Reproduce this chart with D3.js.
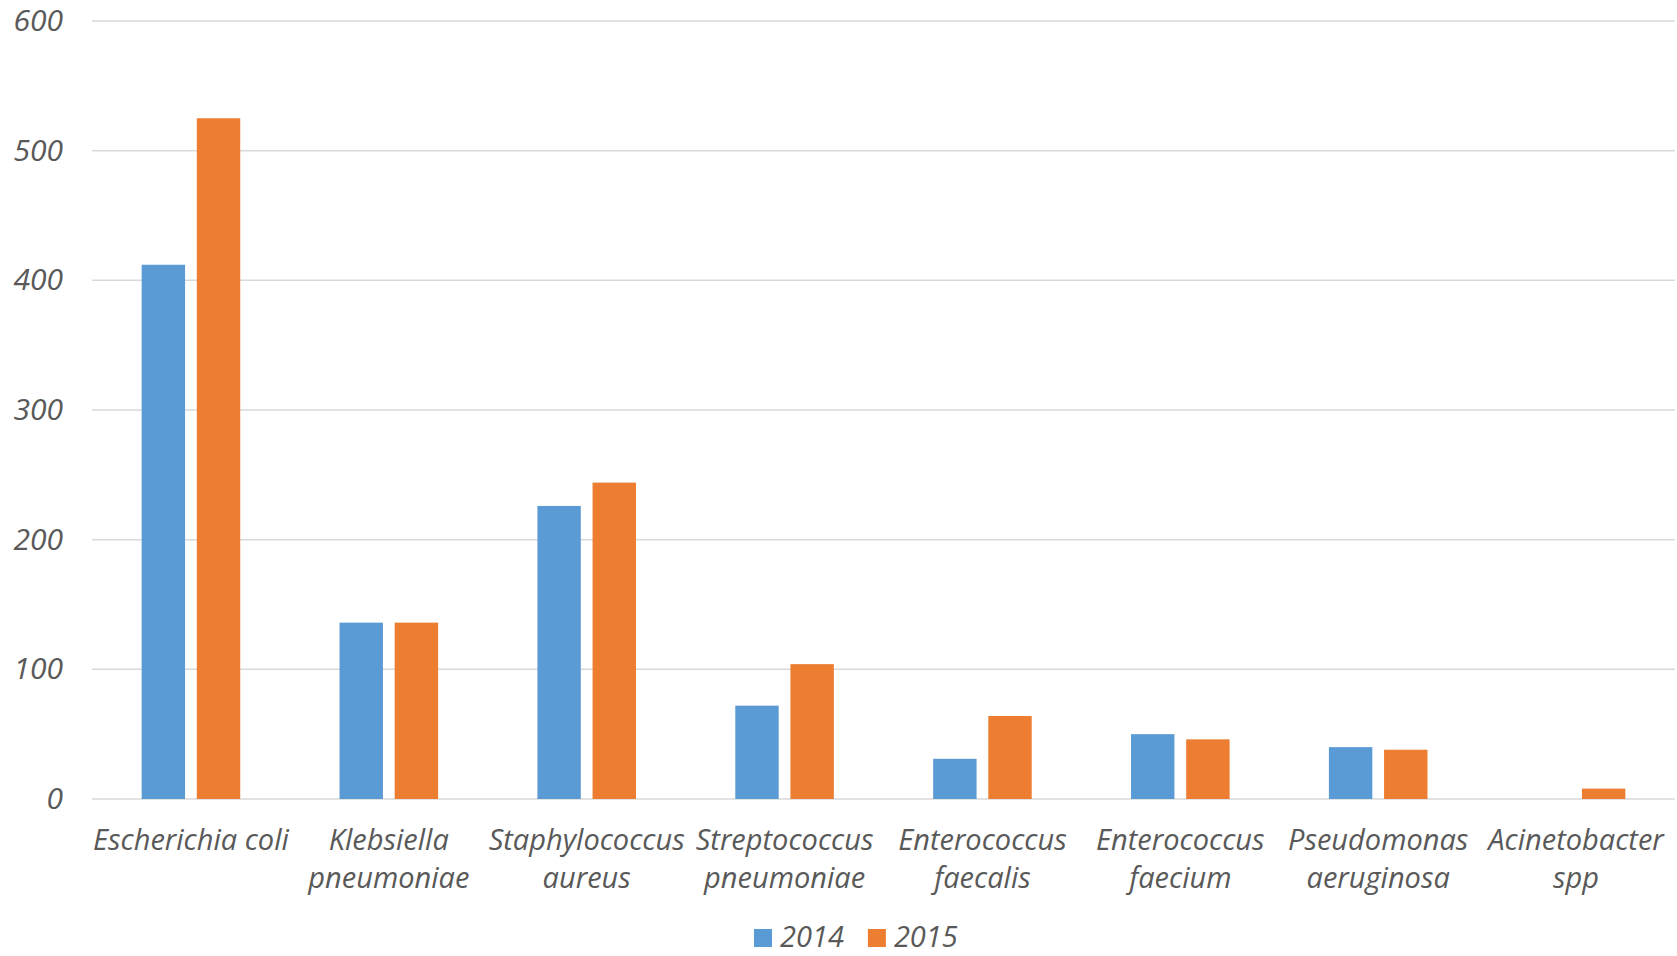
<!DOCTYPE html>
<html>
<head>
<meta charset="utf-8">
<script src="https://cdn.jsdelivr.net/npm/d3@7/dist/d3.min.js"></script>
<style>
  html, body { margin: 0; padding: 0; background: #fff; }
  svg { display: block; }
  text { font-family: "Open Sans", "Lato", sans-serif; font-style: italic; fill: #595959; }
</style>
</head>
<body>
<svg id="chart" width="1677" height="956"></svg>
<script>
// Bacterial isolates by species, 2014 vs 2015
const categories = [
  "Escherichia coli",
  "Klebsiella pneumoniae",
  "Staphylococcus aureus",
  "Streptococcus pneumoniae",
  "Enterococcus faecalis",
  "Enterococcus faecium",
  "Pseudomonas aeruginosa",
  "Acinetobacter spp"
];
const seriesNames = ["2014", "2015"];
const values2014 = [412, 136, 226, 72, 31, 50, 40, 0];
const values2015 = [525, 136, 244, 104, 64, 46, 38, 8];
const yTicks = [0, 100, 200, 300, 400, 500, 600];

const colors = ["#5B9BD5", "#ED7D31"];
const seriesValues = [values2014, values2015];

const svg = d3.select("#chart");
const margin = { left: 92, right: 2, top: 21, bottom: 157 };
const W = 1677, H = 956;
const innerW = W - margin.left - margin.right;
const innerH = H - margin.top - margin.bottom;
const fontSize = 29;

const g = svg.append("g").attr("transform", `translate(${margin.left},${margin.top})`);

const x = d3.scaleBand().domain(categories).range([0, innerW]).paddingInner(0).paddingOuter(0);
const inner = d3.scaleBand().domain(seriesNames).range([0, x.bandwidth()])
  .paddingInner(0.213).paddingOuter(0.9);
const y = d3.scaleLinear().domain([0, 600]).range([innerH, 0]);

// horizontal gridlines
g.append("g")
  .selectAll("line")
  .data(yTicks)
  .join("line")
  .attr("x1", 0).attr("x2", innerW)
  .attr("y1", d => y(d)).attr("y2", d => y(d))
  .attr("stroke", "#d9d9d9")
  .attr("stroke-width", 1.5);

// y axis labels
const yAxis = d3.axisLeft(y).tickValues(yTicks).tickSize(0).tickPadding(29);
g.append("g").call(yAxis)
  .call(s => s.select(".domain").remove())
  .selectAll("text")
  .attr("font-size", fontSize + 1)
  .style("font-family", "'Open Sans', Lato, sans-serif")
  .style("font-style", "italic")
  .attr("fill", "#595959");

// bars
const groups = g.append("g").selectAll("g")
  .data(categories)
  .join("g")
  .attr("transform", d => `translate(${x(d)},0)`);

groups.selectAll("rect")
  .data((c, i) => seriesNames.map((s, k) => ({ s, k, v: seriesValues[k][i] })))
  .join("rect")
  .attr("x", d => inner(d.s))
  .attr("width", inner.bandwidth())
  .attr("y", d => y(d.v))
  .attr("height", d => y(0) - y(d.v))
  .attr("fill", d => colors[d.k]);

// category labels, wrapped to the band width
const lineGap = 38;
const xl = g.append("g").attr("transform", `translate(0,${innerH})`);
categories.forEach(c => {
  const t = xl.append("text")
    .attr("x", x(c) + x.bandwidth() / 2)
    .attr("y", 51)
    .attr("text-anchor", "middle")
    .attr("font-size", fontSize);
  t.text(c);
  let lines = [c];
  if (t.node().getComputedTextLength() > x.bandwidth() + 2) {
    lines = c.split(" ");
  }
  t.text(null);
  lines.forEach((ln, i) => {
    t.append("tspan")
      .attr("x", x(c) + x.bandwidth() / 2)
      .attr("dy", i === 0 ? 0 : lineGap)
      .text(ln);
  });
});

// legend
const legend = svg.append("g").attr("transform", "translate(754,929)");
let lx = 0;
seriesNames.forEach((s, k) => {
  legend.append("rect").attr("x", lx).attr("y", 0).attr("width", 18).attr("height", 18).attr("fill", colors[k]);
  const t = legend.append("text").attr("x", lx + 26).attr("y", 18).attr("font-size", fontSize).text(s);
  lx += 26 + t.node().getComputedTextLength() + 24;
});
</script>
</body>
</html>
